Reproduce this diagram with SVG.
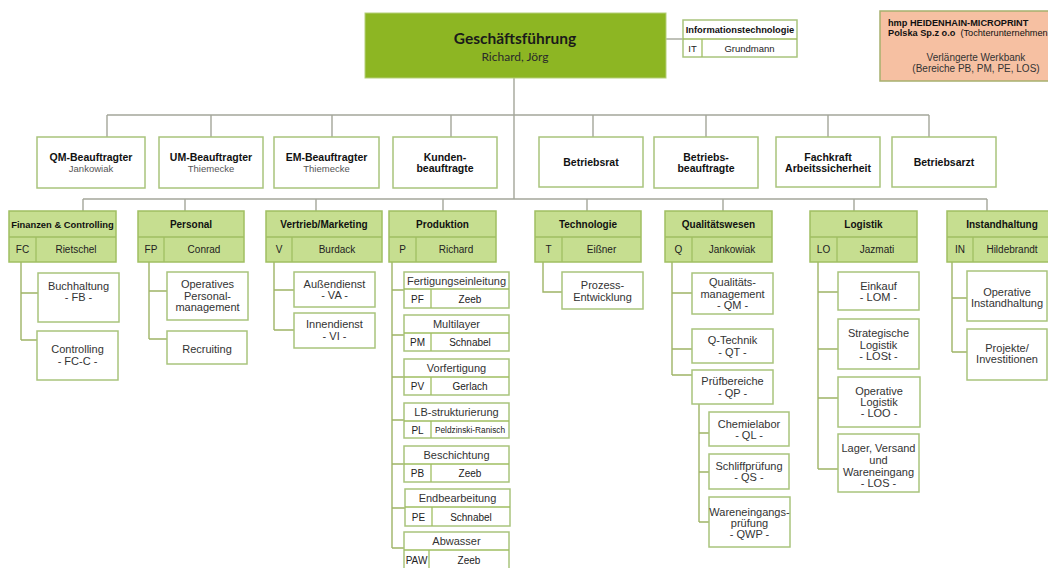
<svg xmlns="http://www.w3.org/2000/svg" width="1048" height="568" viewBox="0 0 1048 568">
<style>
.bg{fill:#ffffff}
.box{fill:#ffffff;stroke:#a9c47c;stroke-width:1.5}
.hdr{fill:#c6de90;stroke:#a0bf62;stroke-width:1.5}
.div{stroke:#a0bf62;stroke-width:1.3;fill:none}
.ln{stroke:#a4a69a;stroke-width:1.4;fill:none}
.sl{stroke:#9fb466;stroke-width:1.4;fill:none}
text{font-family:"Liberation Sans",Arial,sans-serif;text-anchor:middle;fill:#333}
.st{font-size:10.5px;font-weight:bold;fill:#111}
.sn{font-size:9.5px;fill:#555}
.dt{font-size:10px;font-weight:bold;fill:#111}
.dc{font-size:10px;fill:#222}
.t{font-size:11px;fill:#333}
.pc{font-size:10px;fill:#222}
</style>
<rect class="bg" x="0" y="0" width="1048" height="568"/>

<g id="connectors">
  <path class="ln" d="M514 78V199M107 115H929M107 115V137M211 115V137M332 115V137M451 115V137M593 115V137M706 115V137M828 115V137M929 115V137"/>
  <path class="ln" d="M666 39H683"/>
  <path class="ln" d="M83 199H987M83 199V211M185 199V211M316 199V211M443 199V211M587 199V211M723 199V211M854 199V211M987 199V211"/>
  <path class="sl" d="M21 262V340M21 293H38M21 340H37"/>
  <path class="sl" d="M149 262V339M149 291H167M149 339H167"/>
  <path class="sl" d="M274 262V330M274 290H294M274 330H294"/>
  <path class="sl" d="M392 262V548M392 290H404M392 335H404M392 377H404M392 420H404M392 464H404M392 508H405M392 548H404"/>
  <path class="sl" d="M543 262V292H562"/>
  <path class="sl" d="M672 262V375M672 293H692M672 349H692M672 375H692"/>
  <path class="sl" d="M699 404V522M699 433H709M699 472H709M699 522H709"/>
  <path class="sl" d="M818 262V469M818 292H838M818 349H838M818 398H838M818 469H838"/>
  <path class="sl" d="M952 262V352M952 298H967M952 352H967"/>
</g>

<g id="gf">
  <rect x="365" y="13" width="301" height="65" fill="#8db623" stroke="#b5cf7a" stroke-width="1"/>
  <text x="515" y="44" style="font-family:Lato,'Liberation Sans',sans-serif;font-size:15.5px;font-weight:bold;fill:#1a1a1a">Geschäftsführung</text>
  <text x="515" y="61" style="font-family:Lato,'Liberation Sans',sans-serif;font-size:12px;fill:#2a2a2a">Richard, Jörg</text>
</g>

<g id="it">
  <rect class="box" x="683" y="20" width="114" height="37"/>
  <path class="div" d="M683 39H797M702 39V57"/>
  <text x="740" y="33" style="font-size:9.3px;font-weight:bold;fill:#111">Informationstechnologie</text>
  <text x="692.5" y="52" class="dc" style="font-size:9.5px">IT</text>
  <text x="749.5" y="52" class="dc" style="font-size:9.5px">Grundmann</text>
</g>

<g id="polska">
  <rect x="880" y="11" width="180" height="70" fill="#f6c0a2" stroke="#a7b06e" stroke-width="1.5"/>
  <text x="888" y="26" style="text-anchor:start;font-size:9.2px;font-weight:bold;fill:#111">hmp HEIDENHAIN-MICROPRINT</text>
  <text x="888" y="36" style="text-anchor:start;font-size:9.2px;fill:#111"><tspan font-weight="bold">Polska Sp.z o.o</tspan><tspan dx="5">(Tochterunternehmen</tspan></text>
  <text x="976" y="61" style="font-size:10px;fill:#333">Verlängerte Werkbank</text>
  <text x="976" y="72" style="font-size:10px;fill:#333">(Bereiche PB, PM, PE, LOS)</text>
</g>

<g id="qmb"><rect class="box" x="37" y="137" width="108" height="51"/><text class="st" x="91" y="161">QM-Beauftragter</text><text class="sn" x="91" y="172">Jankowiak</text></g>
<g id="umb"><rect class="box" x="159" y="137" width="104" height="51"/><text class="st" x="211" y="161">UM-Beauftragter</text><text class="sn" x="211" y="172">Thiemecke</text></g>
<g id="emb"><rect class="box" x="274" y="137" width="105" height="51"/><text class="st" x="326.5" y="161">EM-Beauftragter</text><text class="sn" x="326.5" y="172">Thiemecke</text></g>
<g id="kb"><rect class="box" x="393" y="137" width="104" height="51"/><text class="st" x="445" y="161">Kunden-</text><text class="st" x="445" y="172">beauftragte</text></g>
<g id="br"><rect class="box" x="539" y="137" width="104" height="50"/><text class="st" x="591" y="166">Betriebsrat</text></g>
<g id="bb"><rect class="box" x="654" y="137" width="104" height="51"/><text class="st" x="706" y="161">Betriebs-</text><text class="st" x="706" y="172">beauftragte</text></g>
<g id="fa"><rect class="box" x="776" y="137" width="104" height="50"/><text class="st" x="828" y="161">Fachkraft</text><text class="st" x="828" y="172">Arbeitssicherheit</text></g>
<g id="ba"><rect class="box" x="892" y="137" width="104" height="50"/><text class="st" x="944" y="166">Betriebsarzt</text></g>

<g id="fc"><rect class="hdr" x="9" y="211" width="107" height="51"/><path class="div" d="M9 237H116M36 237V262"/><text class="dt" x="62.5" y="228" style="font-size:9.4px">Finanzen &amp; Controlling</text><text class="dc" x="22.5" y="253">FC</text><text class="dc" x="76" y="253">Rietschel</text></g>
<g id="fp"><rect class="hdr" x="138" y="211" width="106" height="51"/><path class="div" d="M138 237H244M164 237V262"/><text class="dt" x="191" y="228">Personal</text><text class="dc" x="151" y="253">FP</text><text class="dc" x="204" y="253">Conrad</text></g>
<g id="v"><rect class="hdr" x="266" y="211" width="116" height="51"/><path class="div" d="M266 237H382M292 237V262"/><text class="dt" x="324" y="228">Vertrieb/Marketing</text><text class="dc" x="279" y="253">V</text><text class="dc" x="337" y="253">Burdack</text></g>
<g id="p"><rect class="hdr" x="389" y="211" width="107" height="51"/><path class="div" d="M389 237H496M416 237V262"/><text class="dt" x="442.5" y="228">Produktion</text><text class="dc" x="402.5" y="253">P</text><text class="dc" x="456" y="253">Richard</text></g>
<g id="t"><rect class="hdr" x="535" y="211" width="106" height="51"/><path class="div" d="M535 237H641M562 237V262"/><text class="dt" x="588" y="228">Technologie</text><text class="dc" x="548.5" y="253">T</text><text class="dc" x="601.5" y="253">Eißner</text></g>
<g id="q"><rect class="hdr" x="665" y="211" width="107" height="51"/><path class="div" d="M665 237H772M692 237V262"/><text class="dt" x="718.5" y="228">Qualitätswesen</text><text class="dc" x="678.5" y="253">Q</text><text class="dc" x="732" y="253">Jankowiak</text></g>
<g id="lo"><rect class="hdr" x="810" y="211" width="107" height="51"/><path class="div" d="M810 237H917M837 237V262"/><text class="dt" x="863.5" y="228">Logistik</text><text class="dc" x="823.5" y="253">LO</text><text class="dc" x="877" y="253">Jazmati</text></g>
<g id="in"><rect class="hdr" x="947" y="211" width="106" height="51"/><path class="div" d="M947 237H1053M973 237V262"/><text class="dt" x="1002" y="228">Instandhaltung</text><text class="dc" x="960" y="253">IN</text><text class="dc" x="1012" y="253">Hildebrandt</text></g>

<g id="fb"><rect class="box" x="38" y="273" width="81" height="49"/><text class="t" x="78.5" y="290">Buchhaltung</text><text class="t" x="78.5" y="301">- FB -</text></g>
<g id="fcc"><rect class="box" x="37" y="331" width="81" height="49"/><text class="t" x="77.5" y="353">Controlling</text><text class="t" x="77.5" y="365">- FC-C -</text></g>
<g id="opm"><rect class="box" x="167" y="272" width="81" height="48"/><text class="t" x="207.5" y="288">Operatives</text><text class="t" x="207.5" y="300">Personal-</text><text class="t" x="207.5" y="311">management</text></g>
<g id="rec"><rect class="box" x="167" y="331" width="80" height="33"/><text class="t" x="207" y="353">Recruiting</text></g>
<g id="va"><rect class="box" x="294" y="272" width="81" height="35"/><text class="t" x="334.5" y="288">Außendienst</text><text class="t" x="334.5" y="299">- VA -</text></g>
<g id="vi"><rect class="box" x="294" y="313" width="81" height="35"/><text class="t" x="334.5" y="328">Innendienst</text><text class="t" x="334.5" y="340">- VI -</text></g>

<g id="pf"><rect class="box" x="404" y="272" width="105" height="36"/><path class="div" d="M404 289H509M431 289V308"/><text class="t" x="456.5" y="285">Fertigungseinleitung</text><text class="pc" x="417.5" y="302.5">PF</text><text class="pc" x="470" y="302.5">Zeeb</text></g>
<g id="pm"><rect class="box" x="404" y="315" width="105" height="36"/><path class="div" d="M404 333H509M431 333V351"/><text class="t" x="456.5" y="328">Multilayer</text><text class="pc" x="417.5" y="346">PM</text><text class="pc" x="470" y="346">Schnabel</text></g>
<g id="pv"><rect class="box" x="404" y="359" width="105" height="36"/><path class="div" d="M404 377H509M431 377V395"/><text class="t" x="456.5" y="372">Vorfertigung</text><text class="pc" x="417.5" y="390">PV</text><text class="pc" x="470" y="390">Gerlach</text></g>
<g id="pl"><rect class="box" x="404" y="403" width="105" height="35"/><path class="div" d="M404 421H509M431 421V438"/><text class="t" x="456.5" y="416">LB-strukturierung</text><text class="pc" x="417.5" y="433.5">PL</text><text class="pc" x="470" y="433" style="font-size:8.3px">Peldzinski-Ranisch</text></g>
<g id="pb"><rect class="box" x="404" y="446" width="105" height="36"/><path class="div" d="M404 464H509M431 464V482"/><text class="t" x="456.5" y="459">Beschichtung</text><text class="pc" x="417.5" y="477">PB</text><text class="pc" x="470" y="477">Zeeb</text></g>
<g id="pe"><rect class="box" x="405" y="489" width="105" height="37"/><path class="div" d="M405 507H510M432 507V526"/><text class="t" x="457.5" y="502">Endbearbeitung</text><text class="pc" x="418.5" y="520.5">PE</text><text class="pc" x="471" y="520.5">Schnabel</text></g>
<g id="paw"><rect class="box" x="404" y="532" width="105" height="40"/><path class="div" d="M404 550H509M429 550V572"/><text class="t" x="456.5" y="545">Abwasser</text><text class="pc" x="416.5" y="564">PAW</text><text class="pc" x="469" y="564">Zeeb</text></g>

<g id="pe2"><rect class="box" x="562" y="272" width="81" height="37"/><text class="t" x="602.5" y="289">Prozess-</text><text class="t" x="602.5" y="301">Entwicklung</text></g>

<g id="qm"><rect class="box" x="692" y="273" width="81" height="41"/><text class="t" x="732.5" y="286">Qualitäts-</text><text class="t" x="732.5" y="298">management</text><text class="t" x="732.5" y="309">- QM -</text></g>
<g id="qt"><rect class="box" x="692" y="329" width="81" height="34"/><text class="t" x="732.5" y="344">Q-Technik</text><text class="t" x="732.5" y="356">- QT -</text></g>
<g id="qp"><rect class="box" x="692" y="370" width="81" height="34"/><text class="t" x="732.5" y="385">Prüfbereiche</text><text class="t" x="732.5" y="397">- QP -</text></g>
<g id="ql"><rect class="box" x="709" y="412" width="80" height="34"/><text class="t" x="749" y="428">Chemielabor</text><text class="t" x="749" y="439">- QL -</text></g>
<g id="qs"><rect class="box" x="709" y="454" width="80" height="35"/><text class="t" x="749" y="470">Schliffprüfung</text><text class="t" x="749" y="481">- QS -</text></g>
<g id="qwp"><rect class="box" x="709" y="497" width="81" height="50"/><text class="t" x="749.5" y="516">Wareneingangs-</text><text class="t" x="749.5" y="527">prüfung</text><text class="t" x="749.5" y="538">- QWP -</text></g>

<g id="lom"><rect class="box" x="838" y="272" width="81" height="38"/><text class="t" x="878.5" y="290">Einkauf</text><text class="t" x="878.5" y="301">- LOM -</text></g>
<g id="lost"><rect class="box" x="838" y="319" width="81" height="50"/><text class="t" x="878.5" y="337">Strategische</text><text class="t" x="878.5" y="349">Logistik</text><text class="t" x="878.5" y="360">- LOSt -</text></g>
<g id="loo"><rect class="box" x="838" y="377" width="82" height="50"/><text class="t" x="879" y="395">Operative</text><text class="t" x="879" y="406">Logistik</text><text class="t" x="879" y="417">- LOO -</text></g>
<g id="los"><rect class="box" x="838" y="434" width="81" height="58"/><text class="t" x="878.5" y="452">Lager, Versand</text><text class="t" x="878.5" y="464">und</text><text class="t" x="878.5" y="476">Wareneingang</text><text class="t" x="878.5" y="487">- LOS -</text></g>

<g id="oi"><rect class="box" x="967" y="271" width="80" height="50"/><text class="t" x="1007" y="296">Operative</text><text class="t" x="1007" y="307">Instandhaltung</text></g>
<g id="pi"><rect class="box" x="967" y="329" width="80" height="51"/><text class="t" x="1007" y="352">Projekte/</text><text class="t" x="1007" y="363">Investitionen</text></g>
</svg>
